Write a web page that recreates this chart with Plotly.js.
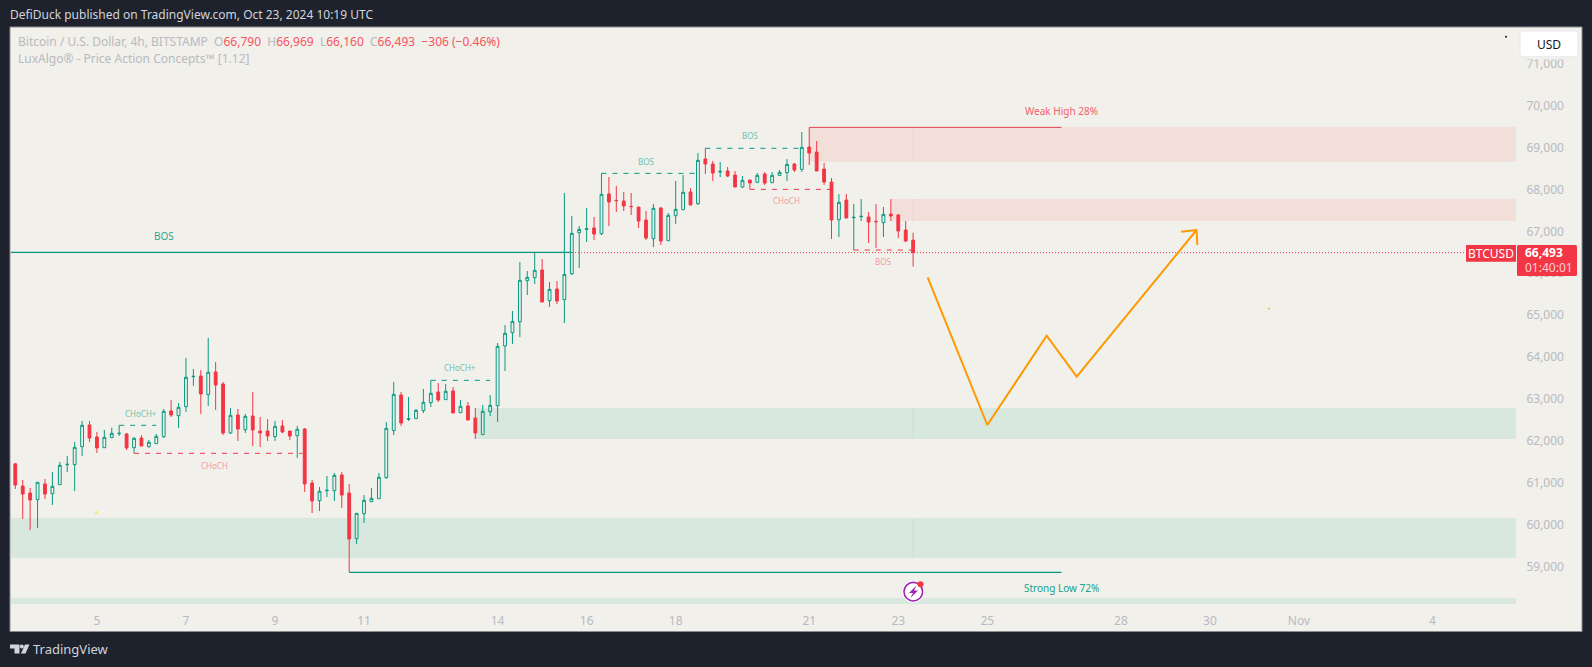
<!DOCTYPE html>
<html>
<head>
<meta charset="utf-8">
<script src="https://cdn.plot.ly/plotly-3.0.1.min.js"></script>
<style>html,body{margin:0;padding:0;background:#1e222d;overflow:hidden}#chart{width:1592px;height:667px}</style>
</head>
<body>
<div id="chart"></div>
<script>
// ---- candle data (BTCUSD 4h) ----
const opens = [61450,60920,60755,60596,60970,60739,60954,61432,61432,61861,62379,62092,61837,62076,62172,62164,61837,62068,61861,61933,62100,62713,62601,62816,63532,63548,63103,63644,63357,62188,62617,62267,62593,62235,62235,62100,62355,62235,62124,
62282,60993,60572,60810,60810,61184,60755,59665,60261,60548,60619,61121,62243,63094,62513,62529,62720,62911,63166,62983,63190,62672,62832,62545,62147,62696,62839,64264,64582,64844,65823,65895,66078,65346,65624,65370,65990,66969,67048,67080,66945,67892,67741,67725,67598,67582,67271,66826,67558,66778,67375,67518,67940,
67661,68727,68608,68417,68441,68345,68059,68226,68170,68369,68162,68337,68401,68608,68481,69014,68894,68489,68178,67279,67749,67327,67351,67343,67239,67208,67414,67391,67032,66790];
const highs = [61470,61066,60875,61010,61089,61257,61495,61639,61973,62474,62474,62211,62259,62315,62371,62180,62092,62140,62020,62164,62760,62975,62904,63978,63715,63691,64455,63882,63405,62784,62760,62641,63166,62569,62522,62474,62498,62235,62355,
62306,61065,60898,61161,61232,61256,60970,60269,60707,60874,61232,62450,63404,63166,63046,62760,63237,63444,63381,63357,63285,62975,62927,62784,62855,63094,64335,64765,65099,66269,66054,66499,66340,65791,65815,67916,67367,67128,67558,67343,68385,68298,68083,67940,67916,67582,67486,67653,67582,67438,68202,68346,68035,
68871,68990,68680,68656,68536,68441,68322,68226,68393,68417,68417,68465,68727,68632,69372,69483,69157,68632,68274,67892,67892,67653,67772,67462,67653,67581,67772,67414,67247,66969];
const lows = [60851,60135,59872,59920,60612,60469,60954,61257,60803,61639,61973,61710,61837,62076,62116,61782,61702,61877,61837,61933,62068,62569,62307,62689,63310,62641,62832,62737,62140,62164,61997,62188,61877,61853,61997,61997,62188,62020,61591,
60779,60277,60325,60659,60564,60397,58869,59537,60039,60548,60619,61089,62139,62354,62473,62529,62664,62808,62927,62983,62664,62672,62497,62044,62147,62593,62450,63667,64311,64478,65481,65744,65314,65195,65266,64813,65958,66126,66746,66794,66913,67128,67462,67486,67391,67080,66794,66627,66675,66778,67176,67518,67629,
67629,68369,68202,68298,68298,68059,68035,68003,68170,68107,68162,68337,68202,68417,68417,68584,68441,68107,66818,66865,67319,66555,67247,66722,66603,66865,67247,66842,66746,66160];
const closes = [60946,60731,60588,61010,60731,60914,61416,61440,61845,62371,62068,61830,62084,62180,62180,61830,62060,61877,61965,62108,62705,62617,62800,63516,63540,63119,63636,63333,62188,62609,62283,62585,62259,62188,62116,62347,62211,62116,62275,
60970,60564,60795,60818,61176,60707,59657,60269,60580,60627,61129,62298,63110,62426,62529,62728,62919,63134,62975,63182,62664,62824,62497,62187,62704,62847,64256,64566,64852,65831,65903,66070,65314,65616,65338,65974,66953,67048,67064,66937,67884,67701,67733,67606,67590,67247,66842,67550,66770,67383,67526,67932,67629,
68695,68608,68393,68433,68322,68059,68218,68154,68337,68154,68337,68409,68600,68465,69006,68871,68441,68178,67271,67693,67319,67335,67359,67223,67231,67406,67367,67009,66770,66493];
const lastClose = closes[closes.length - 1];

// ---- axes ----
const priceTicks = [59000,60000,61000,62000,63000,64000,65000,66000,67000,68000,69000,70000,71000];
const dayTickBars = [11,23,35,47,65,77,89,107,119,131,149,161,173,191];
const dayTickLabels = ['5','7','9','11','14','16','18','21','23','25','28','30','Nov','4'];
const barRange = [-0.58, 202.25];
const priceRange = [58081, 71879];

// ---- indicator zones: [startBar, endBar, top, bottom] ----
const supplyZones = [[107,202.25,69492,68663],[118,202.25,67773,67246]];
const demandZones = [[62,202.25,62784,62044],[-0.58,202.25,60158,59204],[-0.58,202.25,58249,58105]];
const zoneMarkBar = 121;

// ---- structure lines: [startBar, endBar, price] ----
const tealSolid = [[-0.58,75,66500],[45,141,58861]];
const redSolid = [[107,141,69483]];
const tealDashed = [[14,19,62371],[56,64,63444],[79,92,68385],[93,106,68983]];
const redDashed = [[16,38.7,61702],[99,110,68003],[113,121,66555]];

// ---- forecast path drawn on the chart ----
const pathBars = [122.96,131.0,139.0,143.05,159.2];
const pathPrices = [65904,62378,64510,63531,67033];
const arrowBars = [157.1,159.2,159.3];
const arrowPrices = [66992,67033,66675];

// ---- labels: [bar, price, text] ----
const tealLabels = [[16.9,62648,'CHoCH+'],[59.9,63746,'CHoCH+'],[85,68663,'BOS'],[99,69293,'BOS']];
const redLabels = [[26.9,61416,'CHoCH'],[104,67742,'CHoCH'],[117,66276,'BOS']];

const GREEN='#089981', RED='#f23645', BG='#f1f0eb', DARK='#1e222d', AXIS='#b8bac0';
const L=11,R=1516,T=27,B=605;
const px=x=>(x-L)/(R-L), py=y=>(B-y)/(B-T);
const FONT='"Noto Sans", sans-serif';

function rectPx(x0,y0,x1,y1,fill,line){
  return {type:'rect',xref:'paper',yref:'paper',x0:px(x0),x1:px(x1),y0:py(y0),y1:py(y1),fillcolor:fill,line:line||{width:0},layer:'above'};
}
function pathPx(d,fill,line){
  // d: list of [cmd,x,y,...] in page pixels
  const s=d.map(p=>{const c=p[0];const r=[];for(let i=1;i<p.length;i+=2){r.push(px(p[i]).toFixed(5)+','+py(p[i+1]).toFixed(5));}return c+r.join(' ');}).join(' ');
  return {type:'path',xref:'paper',yref:'paper',path:s,fillcolor:fill||'rgba(0,0,0,0)',line:line||{width:0},layer:'above'};
}
function circlePx(cx,cy,r,fill,line){
  return {type:'circle',xref:'paper',yref:'paper',x0:px(cx-r),x1:px(cx+r),y0:py(cy+r),y1:py(cy-r),fillcolor:fill,line:line||{width:0},layer:'above'};
}
function roundRect(x0,y0,x1,y1,r,fill,line){
  return pathPx([['M',x0+r,y0],['L',x1-r,y0],['Q',x1,y0,x1,y0+r],['L',x1,y1-r],['Q',x1,y1,x1-r,y1],['L',x0+r,y1],['Q',x0,y1,x0,y1-r],['L',x0,y0+r],['Q',x0,y0,x0+r,y0],['Z']],fill,line);
}

const shapes=[];
// frame behind everything
shapes.push({type:'rect',xref:'paper',yref:'paper',x0:px(10),x1:px(1582),y0:py(631.5),y1:py(27),fillcolor:BG,line:{color:'#8b8d92',width:1},layer:'below'});
supplyZones.forEach(z=>shapes.push({type:'rect',xref:'x',yref:'y',x0:z[0],x1:z[1],y0:z[3],y1:z[2],fillcolor:'#f2dfd9',line:{width:0},layer:'below'}));
demandZones.forEach(z=>shapes.push({type:'rect',xref:'x',yref:'y',x0:z[0],x1:z[1],y0:z[3],y1:z[2],fillcolor:'#d9e8df',line:{width:0},layer:'below'}));
supplyZones.forEach(z=>shapes.push({type:'line',xref:'x',yref:'y',x0:zoneMarkBar,x1:zoneMarkBar,y0:z[3],y1:z[2],line:{color:'#eed3cd',width:1},layer:'below'}));
demandZones.forEach(z=>shapes.push({type:'line',xref:'x',yref:'y',x0:zoneMarkBar,x1:zoneMarkBar,y0:z[3],y1:z[2],line:{color:'#c9dfd3',width:1},layer:'below'}));
// last price line
shapes.push({type:'line',xref:'paper',yref:'y',x0:0,x1:px(1466),y0:lastClose,y1:lastClose,line:{color:RED,width:1,dash:'1px,2px'},layer:'below'});
const addLines=(arr,color,dash,width)=>arr.forEach(l=>shapes.push({type:'line',xref:'x',yref:'y',x0:l[0],x1:l[1],y0:l[2],y1:l[2],line:{color:color,width:width,dash:dash},layer:'above'}));
addLines(tealSolid,GREEN,'solid',1.2);
addLines(redSolid,'#dc4450','solid',1);
addLines(tealDashed,GREEN,'5px,6px',1);
addLines(redDashed,RED,'5px,6px',1);

// specks
shapes.push(circlePx(96.3,512.3,1.4,'#fbe84a'));
shapes.push(circlePx(1269,308.6,0.9,'#f5a623'));
shapes.push(circlePx(1506,36.7,1,'#131722'));

// event icon
shapes.push(circlePx(913.3,591.7,11,'#ffffff'));
shapes.push(circlePx(913.3,591.7,9.3,'#ffffff',{color:'#9c27b0',width:1.6}));
shapes.push(pathPx([['M',916.5,585.5],['L',909,593],['L',913,593],['L',910.5,598],['L',918,590.5],['L',914,590.5],['Z']],'#9c27b0'));
shapes.push(circlePx(920.5,584.3,3,RED));

// price scale decorations
shapes.push(rectPx(1517,28,1581,59.5,BG));
shapes.push(roundRect(1520,31,1578,56.7,3,'#ffffff',{color:'#e8e9ec',width:1}));
shapes.push(rectPx(1466,245,1516,261.7,RED));
shapes.push(roundRect(1517,245,1577,276,1.5,RED));

// TradingView logo
shapes.push(pathPx([['M',10,644.5],['L',19.5,644.5],['L',19.5,653.5],['L',14.5,653.5],['L',14.5,648.5],['L',10,648.5],['Z']],'#d1d4dc'));
shapes.push(circlePx(21.8,646.5,2,'#d1d4dc'));
shapes.push(pathPx([['M',25,644.5],['L',29.5,644.5],['L',25.5,653.5],['L',21,653.5],['Z']],'#d1d4dc'));

const ann=[];
const note=(x,y,text,size,color,anchor,extra)=>ann.push(Object.assign({xref:'paper',yref:'paper',x:px(x),y:py(y),text:text,showarrow:false,xanchor:anchor||'left',yanchor:'middle',font:{family:FONT,size:size,color:color},borderpad:0,borderwidth:0},extra||{}));
const label=(b,p,text,size,color)=>ann.push({xref:'x',yref:'y',x:b,y:p,text:text,showarrow:false,xanchor:'center',yanchor:'middle',font:{family:FONT,size:size,color:color},borderpad:0});

note(10,14.5,'DefiDuck published on TradingView.com, Oct 23, 2024 10:19 UTC',12,'#d1d4dc');
const v=s=>'<span style="color:#f7525f">'+s+'</span>';
note(18,41.5,'Bitcoin / U.S. Dollar, 4h, BITSTAMP  O'+v('66,790')+'  H'+v('66,969')+'  L'+v('66,160')+'  C'+v('66,493')+'  '+v('−306 (−0.46%)'),12,AXIS);
note(18,59,'LuxAlgo® - Price Action Concepts™ [1.12]',12,AXIS);
note(1549,44,'USD',12,'#131722','center');
note(1491,253,'BTCUSD',12,'#ffffff','center');
note(1525,252.5,'<b>66,493</b>',12,'#ffffff');
note(1525,267,'01:40:01',12,'#fbd0d5');
note(33,649,'TradingView',13,'#d1d4dc');

tealLabels.forEach(l=>label(l[0],l[1],l[2],8,'#6fc2ae'));
redLabels.forEach(l=>label(l[0],l[1],l[2],8,'#f59aa3'));
label(20,66890,'BOS',10,'#2aa88f');
label(141,69880,'Weak High 28%',10,'#f4606d');
label(141,58495,'Strong Low 72%',10,'#1a9f88');

const barIndex=opens.map((_,i)=>i);
const traces=[{
  type:'candlestick',x:barIndex,open:opens,high:highs,low:lows,close:closes,
  increasing:{line:{color:GREEN,width:1},fillcolor:'rgba(0,0,0,0)'},
  decreasing:{line:{color:RED,width:1},fillcolor:RED},
  whiskerwidth:0,hoverinfo:'skip',showlegend:false
},{
  type:'scatter',mode:'lines',x:pathBars,y:pathPrices,line:{color:'#ff9800',width:2},hoverinfo:'skip',showlegend:false
},{
  type:'scatter',mode:'lines',x:arrowBars,y:arrowPrices,line:{color:'#ff9800',width:2},hoverinfo:'skip',showlegend:false
}];

const layout={
  width:1592,height:667,
  paper_bgcolor:DARK,plot_bgcolor:'rgba(0,0,0,0)',
  margin:{l:L,r:1592-R,t:T,b:667-B,pad:0},
  showlegend:false,hovermode:false,boxgap:0.46,
  xaxis:{range:barRange,tickmode:'array',tickvals:dayTickBars,ticktext:dayTickLabels,showgrid:false,zeroline:false,showline:false,
    ticks:'outside',ticklen:5,tickcolor:'rgba(0,0,0,0)',tickfont:{family:FONT,size:12,color:AXIS},rangeslider:{visible:false},fixedrange:true},
  yaxis:{range:priceRange,side:'right',tickmode:'array',tickvals:priceTicks,ticktext:priceTicks.map(p=>p.toLocaleString('en-US')),showgrid:false,zeroline:false,showline:false,
    ticks:'outside',ticklen:7,tickcolor:'rgba(0,0,0,0)',tickfont:{family:FONT,size:12,color:AXIS},fixedrange:true},
  shapes:shapes,annotations:ann
};
Plotly.newPlot('chart',traces,layout,{displayModeBar:false,staticPlot:true});
</script>
</body>
</html>
